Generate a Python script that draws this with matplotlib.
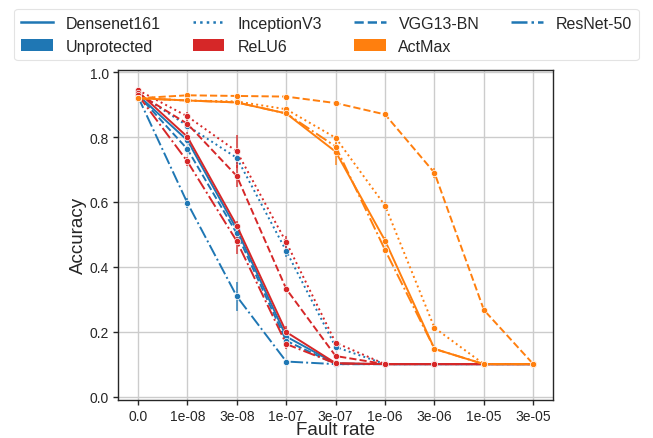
import matplotlib
matplotlib.use('Agg')
import matplotlib.pyplot as plt
from matplotlib.lines import Line2D
from matplotlib.patches import Patch
import numpy as np

# ---- data ----
fault_rates = ['0.0', '1e-08', '3e-08', '1e-07', '3e-07', '1e-06', '3e-06', '1e-05', '3e-05']
models = ['Densenet161', 'InceptionV3', 'VGG13-BN', 'ResNet-50']
protections = ['Unprotected', 'ReLU6', 'ActMax']

# Unprotected
dense_unprot = [0.930, 0.790, 0.515, 0.185, 0.102, 0.100, 0.100, 0.100, 0.100]
incep_unprot = [0.935, 0.835, 0.736, 0.449, 0.153, 0.100, 0.100, 0.100, 0.100]
vgg_unprot   = [0.930, 0.763, 0.503, 0.172, 0.100, 0.100, 0.100, 0.100, 0.100]
resnet_unprot = [0.925, 0.597, 0.309, 0.108, 0.100, 0.100, 0.100, 0.100, 0.100]
# ReLU6
dense_relu6 = [0.940, 0.801, 0.527, 0.199, 0.103, 0.100, 0.100, 0.100, 0.100]
incep_relu6 = [0.945, 0.864, 0.756, 0.476, 0.166, 0.100, 0.100, 0.100, 0.100]
vgg_relu6   = [0.935, 0.841, 0.680, 0.332, 0.125, 0.100, 0.100, 0.100, 0.100]
resnet_relu6 = [0.930, 0.725, 0.479, 0.162, 0.102, 0.100, 0.100, 0.100, 0.100]
# ActMax
dense_actmax = [0.920, 0.913, 0.907, 0.873, 0.755, 0.481, 0.147, 0.100, 0.100]
incep_actmax = [0.920, 0.913, 0.910, 0.886, 0.798, 0.589, 0.212, 0.100, 0.100]
vgg_actmax   = [0.920, 0.929, 0.927, 0.925, 0.905, 0.870, 0.690, 0.267, 0.100]
resnet_actmax = [0.920, 0.913, 0.907, 0.873, 0.771, 0.452, 0.147, 0.100, 0.100]

# error bar half-widths (95% CI), mostly tiny
dense_unprot_err = [0.005, 0.010, 0.015, 0.010, 0.003, 0.0, 0.0, 0.0, 0.0]
incep_unprot_err = [0.005, 0.010, 0.020, 0.020, 0.005, 0.0, 0.0, 0.0, 0.0]
vgg_unprot_err   = [0.005, 0.010, 0.015, 0.010, 0.003, 0.0, 0.0, 0.0, 0.0]
resnet_unprot_err = [0.005, 0.015, 0.045, 0.005, 0.002, 0.0, 0.0, 0.0, 0.0]
dense_relu6_err = [0.005, 0.015, 0.015, 0.020, 0.003, 0.0, 0.0, 0.0, 0.0]
incep_relu6_err = [0.005, 0.012, 0.050, 0.020, 0.005, 0.0, 0.0, 0.0, 0.0]
vgg_relu6_err   = [0.005, 0.015, 0.035, 0.010, 0.005, 0.0, 0.0, 0.0, 0.0]
resnet_relu6_err = [0.005, 0.015, 0.040, 0.015, 0.003, 0.0, 0.0, 0.0, 0.0]
dense_actmax_err = [0.003, 0.003, 0.003, 0.005, 0.040, 0.010, 0.005, 0.0, 0.0]
incep_actmax_err = [0.003, 0.003, 0.003, 0.005, 0.010, 0.010, 0.008, 0.0, 0.0]
vgg_actmax_err   = [0.003, 0.003, 0.003, 0.003, 0.005, 0.005, 0.015, 0.005, 0.0]
resnet_actmax_err = [0.003, 0.003, 0.003, 0.005, 0.010, 0.010, 0.005, 0.0, 0.0]

colors = {'Unprotected': '#1f77b4', 'ReLU6': '#d62728', 'ActMax': '#ff7f0e'}
styles = {'Densenet161': '-', 'InceptionV3': ':', 'VGG13-BN': '--', 'ResNet-50': '-.'}

series = [
    ('Unprotected', 'Densenet161', dense_unprot, dense_unprot_err),
    ('Unprotected', 'InceptionV3', incep_unprot, incep_unprot_err),
    ('Unprotected', 'VGG13-BN', vgg_unprot, vgg_unprot_err),
    ('Unprotected', 'ResNet-50', resnet_unprot, resnet_unprot_err),
    ('ReLU6', 'Densenet161', dense_relu6, dense_relu6_err),
    ('ReLU6', 'InceptionV3', incep_relu6, incep_relu6_err),
    ('ReLU6', 'VGG13-BN', vgg_relu6, vgg_relu6_err),
    ('ReLU6', 'ResNet-50', resnet_relu6, resnet_relu6_err),
    ('ActMax', 'Densenet161', dense_actmax, dense_actmax_err),
    ('ActMax', 'InceptionV3', incep_actmax, incep_actmax_err),
    ('ActMax', 'VGG13-BN', vgg_actmax, vgg_actmax_err),
    ('ActMax', 'ResNet-50', resnet_actmax, resnet_actmax_err),
]

# ---- style ----
plt.rcParams['font.family'] = ['Liberation Sans', 'DejaVu Sans']
plt.rcParams['text.color'] = '#262626'
plt.rcParams['axes.labelcolor'] = '#262626'
plt.rcParams['xtick.color'] = '#262626'
plt.rcParams['ytick.color'] = '#262626'

fig = plt.figure(figsize=(6.53, 4.39), dpi=100)
ax = fig.add_axes([0.181, 0.087, 0.666, 0.752])

x = np.arange(len(fault_rates))
for prot, model, vals, err in series:
    c = colors[prot]
    ax.errorbar(x, vals, yerr=err, fmt='none', ecolor=c, elinewidth=1.4, alpha=0.7, zorder=2)
    ax.plot(x, vals, linestyle=styles[model], color=c, linewidth=1.4,
            marker='o', markersize=4.5, markeredgecolor='white', markeredgewidth=0.5, zorder=3)

ax.set_xticks(x)
ax.set_xticklabels(fault_rates)
ax.set_xlim(-0.4, len(fault_rates) - 0.6)
ax.set_ylim(-0.01, 1.008)
ax.set_yticks([0.0, 0.2, 0.4, 0.6, 0.8, 1.0])
ax.set_yticklabels(['0.0', '0.2', '0.4', '0.6', '0.8', '1.0'])
ax.grid(True, color='#cccccc', linewidth=1.0)
ax.set_axisbelow(True)
for s in ax.spines.values():
    s.set_color('#262626')
    s.set_linewidth(1.0)
ax.tick_params(labelsize=10, length=3.5, width=1, pad=3)
ax.set_xlabel('Fault rate', fontsize=13.5, labelpad=-1)
ax.set_ylabel('Accuracy', fontsize=13.5, labelpad=2)

handles = [
    Line2D([], [], color=colors['Unprotected'], linestyle=styles['Densenet161'], linewidth=1.8, label='Densenet161'),
    Patch(facecolor=colors['Unprotected'], label='Unprotected'),
    Line2D([], [], color=colors['Unprotected'], linestyle=styles['InceptionV3'], linewidth=1.8, label='InceptionV3'),
    Patch(facecolor=colors['ReLU6'], label='ReLU6'),
    Line2D([], [], color=colors['Unprotected'], linestyle=styles['VGG13-BN'], linewidth=1.8, label='VGG13-BN'),
    Patch(facecolor=colors['ActMax'], label='ActMax'),
    Line2D([], [], color=colors['Unprotected'], linestyle=styles['ResNet-50'], linewidth=1.8, label='ResNet-50'),
]
leg = fig.legend(handles=handles, ncol=4, loc='upper center', bbox_to_anchor=(0.5, 0.995),
                 fontsize=11.5, frameon=True, columnspacing=2.0, handlelength=2.0,
                 handletextpad=0.8, borderpad=0.4, labelspacing=0.5)
leg.get_frame().set_edgecolor('#dddddd')
leg.get_frame().set_linewidth(0.8)

fig.savefig('out.png', dpi=100)
